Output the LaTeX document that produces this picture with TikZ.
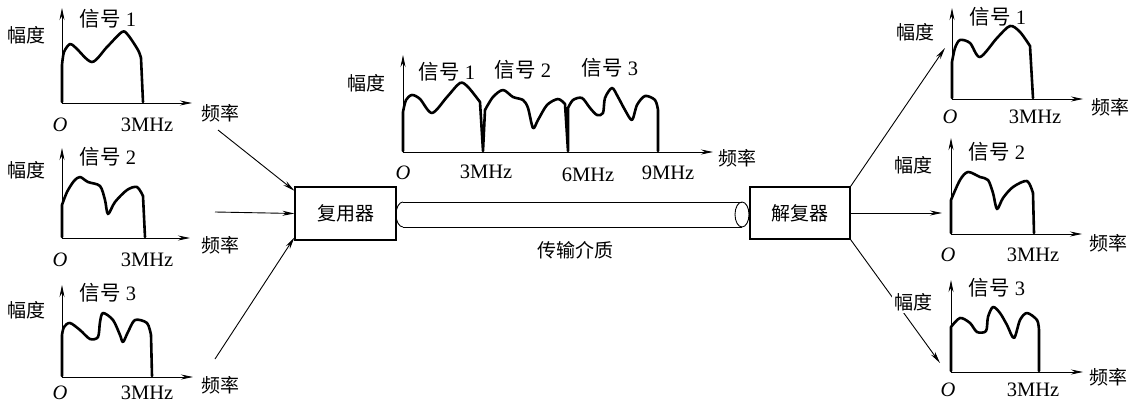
\documentclass[tikz,border=0pt]{standalone}
\usepackage{fontspec}
\setmainfont{Liberation Serif}
\newfontfamily\cjk{Noto Sans CJK SC}
\usetikzlibrary{arrows.meta}
\begin{document}
\begin{tikzpicture}[x=1pt,y=-1pt,
  cn/.style={font=\cjk\fontsize{19}{21}\selectfont, inner sep=0pt},
  lt/.style={font=\fontsize{20.5}{22}\selectfont, inner sep=0pt},
  orig/.style={font=\itshape\fontsize{20.5}{22}\selectfont, inner sep=0pt},
  ax/.style={line width=0.9pt, -{Stealth[length=12pt,width=5pt]}},
  conn/.style={line width=0.9pt, -{Stealth[length=12pt,width=5pt]}},
  sig/.style={line width=2.6pt, line join=round, line cap=round},
  box/.style={draw, line width=1.1pt, minimum width=101pt, minimum height=53pt, inner sep=0pt, font=\cjk\fontsize{19}{21}\selectfont},
  cable/.style={line width=0.9pt}
]
\useasboundingbox (0,0) rectangle (1133,404);

% ---------- left panel 1 ----------
\coordinate (L1o) at (62,103);
\draw[ax] (L1o) -- (62,8);
\draw[ax] (L1o) -- (192,103);
\draw[sig] (62,102) -- (62,65) -- plot[smooth] coordinates {(62,65)(64,52)(70,44)(76,48)(92,62)(107,47)(122,32)(128,35)(138,50)(141,58)} -- (143,102);
\node[cn] (L1y) at (26,35) {幅度};
\node[lt] (L1s) at (108,19) {{\cjk 信号} 1};
\node[orig] (L1O) at (60,125) {O};
\node[lt] (L1f) at (147,125) {3MHz};
\node[cn] (L1x) at (220,113) {频率};

% ---------- left panel 2 ----------
\coordinate (L2o) at (62,238);
\draw[ax] (L2o) -- (62,148);
\draw[ax] (L2o) -- (190,238);
\draw[sig] (62,237) -- (62,205) -- plot[smooth] coordinates {(62,205)(67,192)(74,181)(80,177)(88,182)(100,186)(105,200)(108,214)(115,202)(127,190)(137,187)(143,196)} -- (145,237);
\node[cn] (L2y) at (26,170) {幅度};
\node[lt] (L2s) at (108,157) {{\cjk 信号} 2};
\node[orig] (L2O) at (60,260) {O};
\node[lt] (L2f) at (147,260) {3MHz};
\node[cn] (L2x) at (220,245) {频率};

% ---------- left panel 3 ----------
\coordinate (L3o) at (62,377);
\draw[ax] (L3o) -- (62,285);
\draw[ax] (L3o) -- (193,377);
\draw[sig] (62,376) -- (62,335) -- plot[smooth] coordinates {(62,335)(64,327)(70,323)(80,330)(90,339)(98,337)(100,322)(103,313)(113,320)(120,335)(123,342)(128,332)(135,320)(147,323)(151,335)} -- (152,376);
\node[cn] (L3y) at (26,310) {幅度};
\node[lt] (L3s) at (108,293) {{\cjk 信号} 3};
\node[orig] (L3O) at (60,393) {O};
\node[lt] (L3f) at (147,393) {3MHz};
\node[cn] (L3x) at (220,385) {频率};

% ---------- boxes ----------
\node[box] (mux) at (345.5,213.5) {复用器};
\node[box, minimum width=100pt, minimum height=52pt] (dem) at (800,213) {解复器};

% ---------- inputs ----------
\coordinate (in1) at (218,130);
\coordinate (in2) at (215,212);
\coordinate (in3) at (215,359);
\draw[conn] (in1) -- (mux.156);
\draw[conn] (in2) -- (mux.west);
\draw[conn] (in3) -- (mux.205);

% ---------- cable ----------
\draw[cable] (403,202) -- (742,202);
\draw[cable] (403,227) -- (742,227);
\draw[cable] (403,202) .. controls (399.1,202) and (396,207.6) .. (396,214.5) .. controls (396,221.4) and (399.1,227) .. (403,227);
\draw[cable] (742,214.5) ellipse [x radius=7, y radius=12.5];
\node[cn] (med) at (575,250) {传输介质};

% ---------- centre spectrum ----------
\coordinate (Co) at (403,152);
\draw[ax] (Co) -- (403,55);
\draw[ax] (Co) -- (713,152);
\draw[sig] (403,151) -- (403,112) -- plot[smooth] coordinates {(403,112)(406,100)(412,95)(420,99)(432,113)(447,97)(460,83)(468,87)(480,102)} -- (483,151) -- (485,110) -- plot[smooth] coordinates {(485,110)(493,97)(503,90)(513,97)(523,100)(528,108)(533,128)(538,120)(547,105)(558,99)(565,104)} -- (568,151) -- (568,108) -- plot[smooth] coordinates {(568,108)(573,100)(582,98)(590,108)(597,115)(603,113)(605,98)(612,88)(618,97)(625,110)(632,120)(637,105)(645,96)(655,100)(658,110)} -- (658,151);
\node[cn] (Cy) at (366,83) {幅度};
\node[lt] (Cs1) at (447,72) {{\cjk 信号} 1};
\node[lt] (Cs2) at (523,70) {{\cjk 信号} 2};
\node[lt] (Cs3) at (610,68) {{\cjk 信号} 3};
\node[orig] (CO) at (403,173) {O};
\node[lt] (C3) at (486,172) {3MHz};
\node[lt] (C6) at (588,175) {6MHz};
\node[lt] (C9) at (668,173) {9MHz};
\node[cn] (Cx) at (737,158) {频率};

% ---------- outputs ----------
\coordinate (out1) at (945,48);
\coordinate (out2) at (942,213);
\coordinate (out3) at (940,363);
\draw[conn] (dem.north east) -- (out1);
\draw[conn] (dem.east) -- (out2);
\draw[conn] (dem.south east) -- (out3);

% ---------- right panel 1 ----------
\coordinate (R1o) at (952,99);
\draw[ax] (R1o) -- (952,8);
\draw[ax] (R1o) -- (1083,99);
\draw[sig] (952,98) -- (952,62) -- plot[smooth] coordinates {(952,62)(955,48)(960,40)(970,43)(980,57)(997,38)(1010,26)(1020,32)(1030,46)} -- (1033,98);
\node[cn] (R1y) at (915,32) {幅度};
\node[lt] (R1s) at (998,17) {{\cjk 信号} 1};
\node[orig] (R1O) at (950,117) {O};
\node[lt] (R1f) at (1035,117) {3MHz};
\node[cn] (R1x) at (1110,107) {频率};

% ---------- right panel 2 ----------
\coordinate (R2o) at (951,234);
\draw[ax] (R2o) -- (951,138);
\draw[ax] (R2o) -- (1082,234);
\draw[sig] (951,233) -- (951,200) -- plot[smooth] coordinates {(951,200)(960,180)(968,172)(980,177)(988,180)(993,193)(997,209)(1003,198)(1013,187)(1027,181)(1033,193)} -- (1034,233);
\node[cn] (R2y) at (913,165) {幅度};
\node[lt] (R2s) at (997,152) {{\cjk 信号} 2};
\node[orig] (R2O) at (948,255) {O};
\node[lt] (R2f) at (1033,255) {3MHz};
\node[cn] (R2x) at (1108,243) {频率};

% ---------- right panel 3 ----------
\coordinate (R3o) at (951,372);
\draw[ax] (R3o) -- (951,280);
\draw[ax] (R3o) -- (1083,372);
\draw[sig] (951,371) -- (951,327) -- plot[smooth] coordinates {(951,327)(960,318)(970,323)(977,332)(986,331)(988,317)(993,307)(1000,313)(1007,325)(1014,338)(1020,320)(1027,313)(1037,320)(1039,330)} -- (1039,371);
\node[cn, fill=white, inner sep=2pt] (R3y) at (913,302) {幅度};
\node[lt] (R3s) at (997,288) {{\cjk 信号} 3};
\node[orig] (R3O) at (948,390) {O};
\node[lt] (R3f) at (1033,390) {3MHz};
\node[cn] (R3x) at (1108,377) {频率};
\end{tikzpicture}
\end{document}
